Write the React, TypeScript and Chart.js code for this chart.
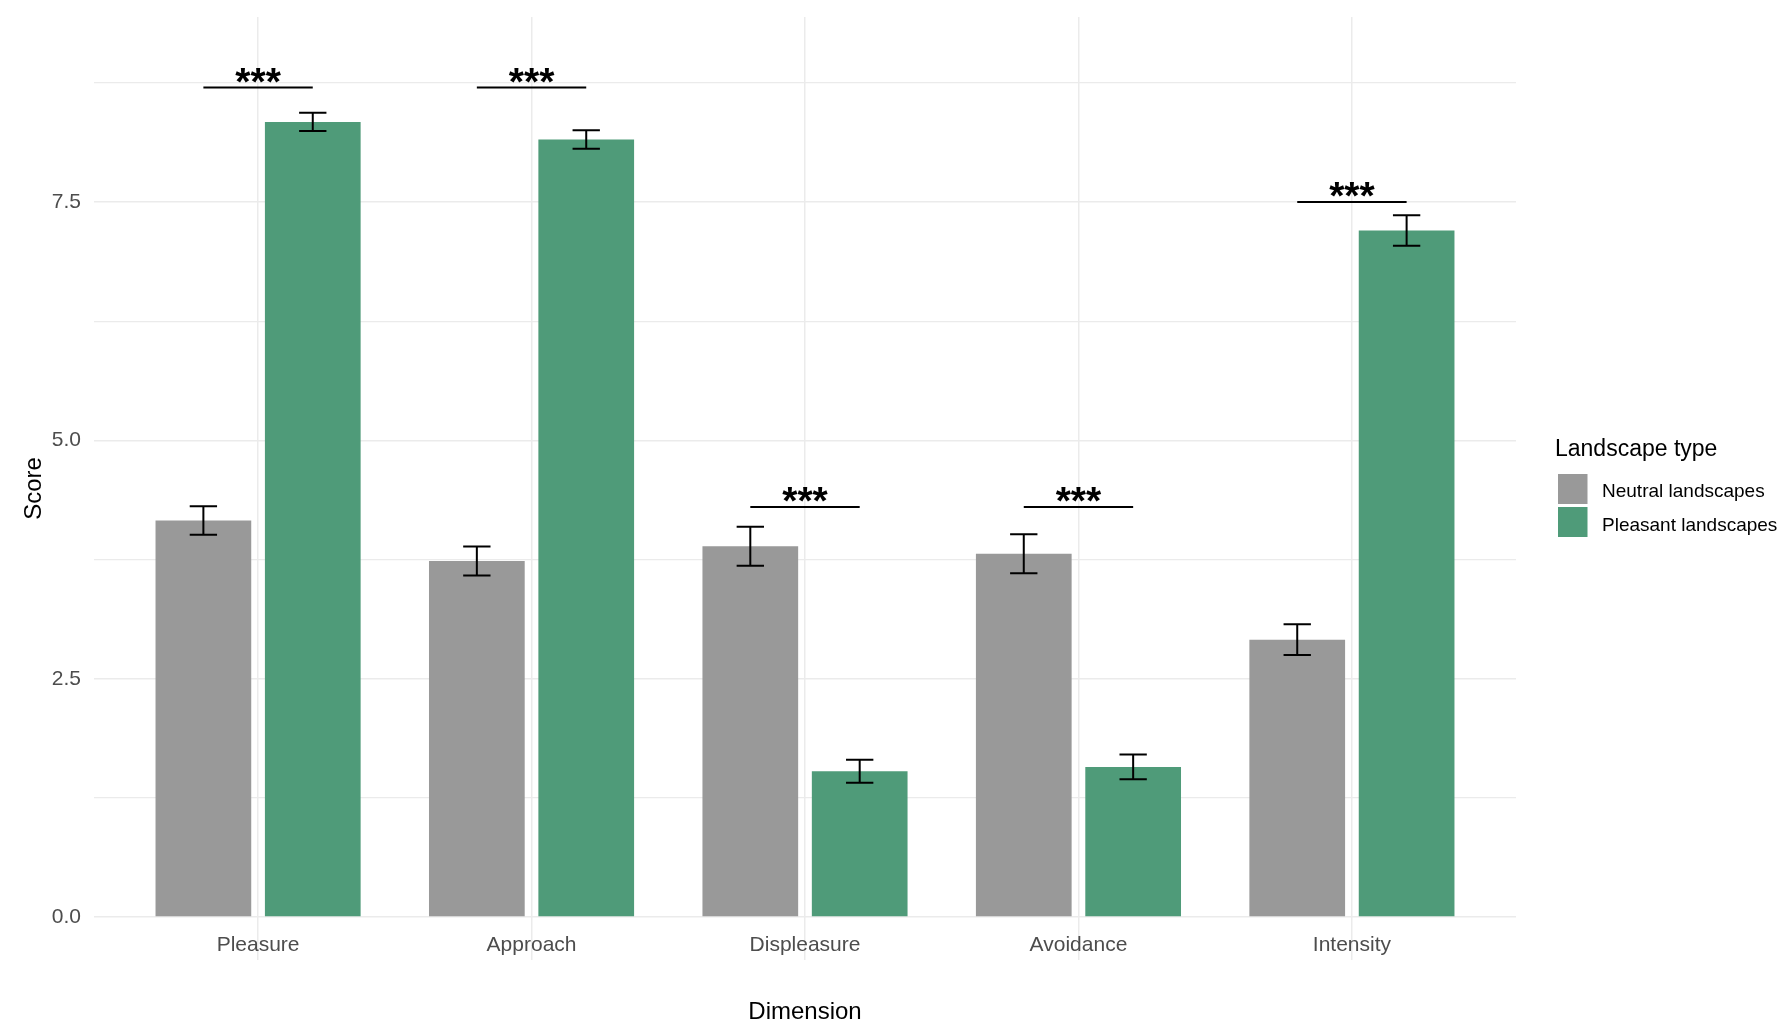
import React, { useEffect, useRef } from "react";
import { Chart, registerables } from "chart.js";

Chart.register(...registerables);

const categories = ["Pleasure", "Approach", "Displeasure", "Avoidance", "Intensity"];
const seriesNames = ["Neutral landscapes", "Pleasant landscapes"];
const seriesColors = ["#999999", "#4F9B79"];
const neutralMeans = [4.16, 3.735, 3.89, 3.81, 2.91];
const neutralErr = [0.15, 0.152, 0.205, 0.205, 0.16];
const pleasantMeans = [8.34, 8.155, 1.53, 1.575, 7.2];
const pleasantErr = [0.095, 0.097, 0.12, 0.13, 0.16];
const sigY = [8.7, 8.7, 4.3, 4.3, 7.5];
const sigLabels = ["***", "***", "***", "***", "***"];
const yTicks = [0, 1.25, 2.5, 3.75, 5, 6.25, 7.5, 8.75];
const legendTitle = "Landscape type";
const xTitle = "Dimension";
const yTitle = "Score";

const FONT = "'Liberation Sans', Arial, sans-serif";

const errorBarPlugin = {
  id: "errorBars",
  afterDatasetsDraw(chart: any) {
    const ctx = chart.ctx;
    const xs = chart.scales.x;
    const ys = chart.scales.y;
    const halfCap = xs.getPixelForValue(1.05) - xs.getPixelForValue(1);
    chart.data.datasets.forEach((ds: any, di: number) => {
      const meta = chart.getDatasetMeta(di);
      meta.data.forEach((bar: any, i: number) => {
        const v = ds.data[i].y;
        const e = ds.errors[i];
        const x = bar.x;
        const yTop = ys.getPixelForValue(v + e);
        const yBot = ys.getPixelForValue(v - e);
        ctx.save();
        ctx.strokeStyle = "#000000";
        ctx.lineWidth = 2;
        ctx.beginPath();
        ctx.moveTo(x, yTop);
        ctx.lineTo(x, yBot);
        ctx.moveTo(x - halfCap, yTop);
        ctx.lineTo(x + halfCap, yTop);
        ctx.moveTo(x - halfCap, yBot);
        ctx.lineTo(x + halfCap, yBot);
        ctx.stroke();
        ctx.restore();
      });
    });
    // significance annotations
    sigY.forEach((sv, i) => {
      const c = i + 1;
      const x0 = xs.getPixelForValue(c - 0.2);
      const x1 = xs.getPixelForValue(c + 0.2);
      const y = ys.getPixelForValue(sv);
      ctx.save();
      ctx.strokeStyle = "#000000";
      ctx.lineWidth = 2;
      ctx.beginPath();
      ctx.moveTo(x0, y);
      ctx.lineTo(x1, y);
      ctx.stroke();
      ctx.fillStyle = "#000000";
      ctx.font = `bold 39px ${FONT}`;
      ctx.textAlign = "center";
      ctx.textBaseline = "alphabetic";
      ctx.fillText(sigLabels[i], xs.getPixelForValue(c), y + 7);
      ctx.restore();
    });
  },
};

const xLabelPlugin = {
  id: "xLabels",
  afterDraw(chart: any) {
    const ctx = chart.ctx;
    const xs = chart.scales.x;
    ctx.save();
    ctx.fillStyle = "#4D4D4D";
    ctx.font = `21px ${FONT}`;
    ctx.textAlign = "center";
    ctx.textBaseline = "middle";
    categories.forEach((lab, i) => {
      ctx.fillText(lab, xs.getPixelForValue(i + 1), 945);
    });
    ctx.restore();
  },
};

const legendPlugin = {
  id: "customLegend",
  afterDraw(chart: any) {
    const ctx = chart.ctx;
    ctx.save();
    ctx.fillStyle = "#000000";
    ctx.font = `23px ${FONT}`;
    ctx.textAlign = "left";
    ctx.textBaseline = "middle";
    ctx.fillText(legendTitle, 1555, 450);
    const keyTops = [474, 507];
    const textYs = [491.5, 526];
    chart.data.datasets.forEach((ds: any, i: number) => {
      ctx.fillStyle = ds.backgroundColor;
      ctx.fillRect(1558, keyTops[i], 29.5, 30);
      ctx.fillStyle = "#000000";
      ctx.font = `19px ${FONT}`;
      ctx.fillText(ds.label, 1602, textYs[i]);
    });
    ctx.restore();
  },
};

export default function App() {
  const canvasRef = useRef<HTMLCanvasElement | null>(null);

  useEffect(() => {
    document.body.style.margin = "0";
    const canvas = canvasRef.current;
    if (!canvas) return;
    Chart.defaults.font.family = FONT;

    const chart = new Chart(canvas, {
      type: "bar",
      data: {
        datasets: [
          {
            label: seriesNames[0],
            data: categories.map((_, i) => ({ x: i + 1, y: neutralMeans[i] })),
            errors: neutralErr,
            backgroundColor: seriesColors[0],
            borderWidth: 0,
          } as any,
          {
            label: seriesNames[1],
            data: categories.map((_, i) => ({ x: i + 1, y: pleasantMeans[i] })),
            errors: pleasantErr,
            backgroundColor: seriesColors[1],
            borderWidth: 0,
          } as any,
        ],
      },
      options: {
        animation: false,
        responsive: false,
        devicePixelRatio: 1,
        datasets: {
          bar: { categoryPercentage: 0.8, barPercentage: 0.875 },
        },
        layout: { padding: { top: 17, right: 268, left: 0, bottom: 0 } },
        plugins: {
          legend: { display: false },
          tooltip: { enabled: false },
        },
        scales: {
          x: {
            type: "linear",
            min: 0.4,
            max: 5.6,
            offset: false,
            afterBuildTicks: (scale: any) => {
              scale.ticks = categories.map((_, i) => ({ value: i + 1 }));
            },
            afterFit: (scale: any) => {
              scale.height = 73;
              scale.paddingLeft = 0;
              scale.paddingRight = 0;
            },
            grid: { color: "#EBEBEB", lineWidth: 1.5, drawTicks: false, offset: false },
            border: { display: false },
            ticks: {
              display: false,
              autoSkip: false,
              callback: (v: any) => categories[Math.round(v) - 1] ?? "",
            },
            title: {
              display: true,
              text: xTitle,
              color: "#000000",
              font: { size: 24, family: FONT },
              padding: { top: 0, bottom: 6 },
            },
          },
          y: {
            type: "linear",
            min: -0.45,
            max: 9.44,
            afterBuildTicks: (scale: any) => {
              scale.ticks = yTicks.map((v) => ({ value: v }));
            },
            afterFit: (scale: any) => {
              scale.width = 94;
              scale.paddingTop = 0;
              scale.paddingBottom = 0;
            },
            grid: {
              color: "#EBEBEB",
              lineWidth: (c: any) => {
                const v = c.tick ? c.tick.value : 0;
                return Math.abs(v / 2.5 - Math.round(v / 2.5)) < 1e-6 ? 1.5 : 1.2;
              },
              drawTicks: false,
            },
            border: { display: false },
            ticks: {
              padding: 13,
              color: "#4D4D4D",
              font: { size: 21, family: FONT },
              autoSkip: false,
              callback: (v: any) => {
                const n = Number(v);
                return Math.abs(n / 2.5 - Math.round(n / 2.5)) < 1e-6 ? n.toFixed(1) : "";
              },
            },
            title: {
              display: true,
              text: yTitle,
              color: "#000000",
              font: { size: 24, family: FONT },
              padding: { top: 20, bottom: 0 },
            },
          },
        },
      } as any,
      plugins: [errorBarPlugin, xLabelPlugin, legendPlugin],
    });

    return () => {
      chart.destroy();
    };
  }, []);

  return (
    <div style={{ width: 1784, height: 1033, position: "relative", background: "#ffffff" }}>
      <canvas ref={canvasRef} width={1784} height={1033} style={{ width: 1784, height: 1033, display: "block" }} />
    </div>
  );
}
